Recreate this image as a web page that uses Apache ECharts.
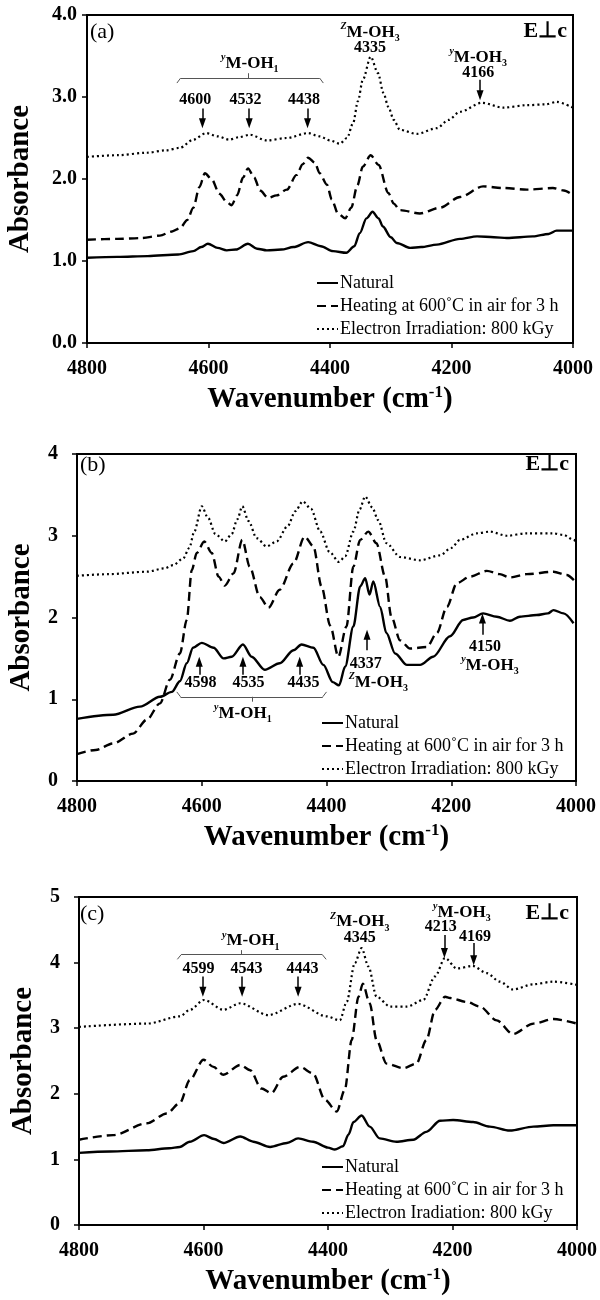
<!DOCTYPE html>
<html>
<head>
<meta charset="utf-8">
<script src="https://cdn.jsdelivr.net/npm/echarts@6/dist/echarts.min.js"></script>
<style>html,body{margin:0;padding:0;background:#fff}#c{width:600px;height:1300px}</style>
</head>
<body>
<div id="c"></div>
<script>
// ---------------- DATA ----------------
// Panel (a)  [wavenumber cm-1, absorbance]
const aNatural = [[4800,1.04],[4750,1.05],[4700,1.06],[4650,1.08],[4625,1.12],[4612,1.17],[4601,1.21],[4585,1.16],[4570,1.13],[4555,1.14],[4535,1.21],[4520,1.15],[4504,1.13],[4480,1.14],[4460,1.17],[4436,1.23],[4415,1.18],[4395,1.12],[4373,1.10],[4360,1.18],[4351,1.34],[4340,1.52],[4330,1.60],[4320,1.52],[4313,1.42],[4300,1.29],[4290,1.22],[4268,1.16],[4250,1.17],[4224,1.20],[4186,1.27],[4158,1.30],[4130,1.29],[4109,1.28],[4066,1.30],[4040,1.33],[4027,1.37],[4000,1.37]];
const aHeating = [[4800,1.26],[4750,1.27],[4710,1.28],[4680,1.31],[4660,1.36],[4647,1.40],[4635,1.50],[4625,1.65],[4615,1.90],[4606,2.07],[4595,2.00],[4582,1.82],[4570,1.72],[4562,1.68],[4553,1.80],[4543,2.02],[4535,2.13],[4525,2.02],[4515,1.86],[4502,1.77],[4488,1.80],[4471,1.87],[4455,2.05],[4445,2.18],[4436,2.26],[4425,2.20],[4417,2.07],[4405,1.93],[4397,1.75],[4387,1.58],[4375,1.52],[4365,1.65],[4355,1.92],[4346,2.15],[4333,2.29],[4320,2.17],[4304,1.83],[4295,1.70],[4285,1.62],[4252,1.58],[4219,1.65],[4186,1.78],[4148,1.91],[4115,1.89],[4076,1.87],[4033,1.89],[4015,1.86],[4000,1.80]];
const aIrradiation = [[4800,2.27],[4750,2.29],[4702,2.32],[4670,2.35],[4647,2.38],[4625,2.48],[4604,2.56],[4585,2.52],[4566,2.48],[4550,2.51],[4532,2.54],[4504,2.47],[4471,2.50],[4436,2.56],[4417,2.52],[4400,2.47],[4384,2.43],[4372,2.50],[4362,2.68],[4354,2.95],[4346,3.21],[4333,3.49],[4321,3.29],[4312,3.05],[4304,2.88],[4295,2.72],[4285,2.60],[4257,2.55],[4224,2.62],[4205,2.72],[4186,2.82],[4150,2.93],[4115,2.87],[4076,2.90],[4045,2.91],[4027,2.94],[4000,2.87]];

// Panel (b)
const bNatural = [[4800,0.76],[4742,0.81],[4699,0.91],[4667,1.03],[4648,1.09],[4635,1.22],[4624,1.44],[4614,1.63],[4600,1.69],[4581,1.63],[4565,1.50],[4552,1.52],[4534,1.67],[4520,1.52],[4499,1.36],[4475,1.44],[4453,1.60],[4440,1.67],[4421,1.63],[4405,1.42],[4390,1.21],[4380,1.17],[4370,1.40],[4357,1.89],[4346,2.38],[4338,2.48],[4331,2.28],[4325,2.44],[4314,2.13],[4304,1.81],[4290,1.56],[4271,1.42],[4250,1.42],[4229,1.52],[4202,1.77],[4181,1.97],[4165,2.00],[4149,2.05],[4127,2.01],[4106,1.96],[4090,2.01],[4063,2.03],[4045,2.05],[4036,2.09],[4020,2.05],[4004,1.93]];
const bHeating = [[4800,0.33],[4770,0.38],[4742,0.46],[4710,0.58],[4688,0.75],[4667,0.95],[4651,1.24],[4635,1.56],[4624,1.97],[4616,2.58],[4608,2.79],[4596,2.93],[4584,2.79],[4573,2.50],[4563,2.39],[4549,2.54],[4535,2.95],[4523,2.62],[4507,2.25],[4493,2.12],[4475,2.34],[4453,2.66],[4435,2.99],[4421,2.87],[4408,2.38],[4394,1.90],[4381,1.52],[4368,1.89],[4357,2.62],[4346,2.95],[4333,3.05],[4320,2.91],[4306,2.50],[4296,2.01],[4282,1.72],[4266,1.62],[4239,1.64],[4223,1.81],[4207,2.13],[4191,2.42],[4170,2.50],[4143,2.57],[4122,2.53],[4106,2.49],[4079,2.53],[4036,2.56],[4015,2.52],[4000,2.43]];
const bIrradiation = [[4800,2.51],[4750,2.53],[4688,2.56],[4660,2.60],[4646,2.64],[4630,2.72],[4620,2.85],[4612,3.05],[4600,3.36],[4590,3.22],[4578,3.02],[4563,2.93],[4552,3.02],[4543,3.20],[4535,3.36],[4525,3.18],[4512,2.97],[4496,2.87],[4480,2.93],[4462,3.12],[4450,3.30],[4438,3.42],[4425,3.33],[4410,3.05],[4395,2.80],[4380,2.68],[4370,2.75],[4357,3.05],[4347,3.32],[4338,3.48],[4327,3.35],[4317,3.19],[4304,2.91],[4282,2.74],[4250,2.70],[4218,2.76],[4200,2.85],[4186,2.95],[4159,3.03],[4138,3.05],[4111,3.00],[4079,3.03],[4037,3.03],[4020,3.01],[4004,2.95],[4000,2.93]];

// Panel (c)
const cNatural = [[4800,1.10],[4750,1.12],[4691,1.14],[4655,1.17],[4638,1.19],[4622,1.27],[4599,1.37],[4583,1.31],[4568,1.25],[4541,1.35],[4520,1.27],[4493,1.19],[4466,1.25],[4448,1.32],[4424,1.27],[4400,1.18],[4389,1.15],[4376,1.20],[4367,1.38],[4359,1.57],[4346,1.67],[4333,1.50],[4317,1.32],[4290,1.27],[4263,1.30],[4242,1.42],[4220,1.59],[4199,1.60],[4167,1.57],[4140,1.50],[4108,1.44],[4070,1.50],[4038,1.52],[4000,1.52]];
const cHeating = [[4800,1.30],[4745,1.37],[4691,1.55],[4659,1.70],[4638,1.86],[4622,2.21],[4600,2.52],[4584,2.41],[4568,2.29],[4541,2.44],[4525,2.36],[4507,2.08],[4491,2.01],[4472,2.26],[4445,2.41],[4424,2.31],[4405,1.91],[4386,1.73],[4373,2.06],[4362,2.82],[4351,3.48],[4344,3.68],[4333,3.38],[4322,2.82],[4306,2.46],[4279,2.39],[4258,2.46],[4242,2.82],[4228,3.28],[4212,3.48],[4204,3.46],[4177,3.40],[4156,3.33],[4129,3.12],[4103,2.91],[4070,3.07],[4038,3.14],[4000,3.07]];
const cIrradiation = [[4800,3.02],[4691,3.07],[4638,3.18],[4622,3.28],[4599,3.43],[4568,3.28],[4541,3.38],[4496,3.20],[4448,3.37],[4402,3.18],[4381,3.12],[4370,3.40],[4357,3.99],[4346,4.22],[4335,3.94],[4322,3.48],[4300,3.33],[4273,3.33],[4247,3.43],[4228,3.79],[4212,4.07],[4193,3.91],[4168,3.95],[4145,3.84],[4124,3.71],[4103,3.59],[4070,3.67],[4038,3.71],[4000,3.66]];

// Names / labels
const seriesNamesAB = ['Natural', 'Heating at 600˚C in air for 3 h', 'Electron Irradiation: 800 kGy'];
const seriesNamesC = ['Natural', 'Heating at 600˚C in air for 3 h', 'Electron Iradiation: 800 kGy'];
const panelLabels = ['(a)', '(b)', '(c)'];
const polarLabel = 'E⊥c';
const yMaxes = [4, 4, 5];
const xRange = [4000, 4800];
const aPeakLabels = ['4600', '4532', '4438', '4335', '4166'];
const bPeakLabels = ['4598', '4535', '4435', '4337', '4150'];
const cPeakLabels = ['4599', '4543', '4443', '4345', '4213', '4169'];

// ---------------- LAYOUT / STYLE ----------------
const SERIF = "'Liberation Serif', 'Times New Roman', serif";
const grids = [
  {left: 87, right: 27, top: 15, height: 328},
  {left: 77, right: 24, top: 454, height: 327},
  {left: 79, right: 23, top: 897, height: 328}
];
const yLabelMargin = [10, 19, 19];
const yNameGap = [52, 41, 41];
const legendPos = [{left: 316, top: 272}, {left: 321, top: 712}, {left: 321, top: 1156}];
const titleTops = [21, 454, 903];
const titleLefts = [90, 80, 80];
const eRights = [33, 31, 31];

const site = (sup, sub) => `{sp|${sup}}{mn|M-OH}{sb|${sub}}`;
// annotations (positions in data coordinates)
const annotations = [
  { texts: [
      {x: 4532, y: 3.41, t: site('y', '1'), site: true},
      {x: 4622, y: 2.96, t: aPeakLabels[0]}, {x: 4539, y: 2.96, t: aPeakLabels[1]}, {x: 4443, y: 2.96, t: aPeakLabels[2]},
      {x: 4334, y: 3.79, t: site('Z', '3'), site: true}, {x: 4334, y: 3.60, t: aPeakLabels[3]},
      {x: 4156, y: 3.48, t: site('y', '3'), site: true}, {x: 4156, y: 3.29, t: aPeakLabels[4]}
    ],
    arrows: [[4610, 2.86, 2.62], [4533, 2.86, 2.62], [4437, 2.86, 2.62], [4153, 3.21, 2.96]],
    bracket: {x1: 4652, x2: 4411, y: 3.23, hook: -0.06, mid: 4535}
  },
  { texts: [
      {x: 4602, y: 1.20, t: bPeakLabels[0]}, {x: 4525, y: 1.20, t: bPeakLabels[1]}, {x: 4437, y: 1.20, t: bPeakLabels[2]},
      {x: 4534, y: 0.83, t: site('y', '1'), site: true},
      {x: 4337, y: 1.43, t: bPeakLabels[3]}, {x: 4317, y: 1.20, t: site('Z', '3'), site: true},
      {x: 4146, y: 1.64, t: bPeakLabels[4]}, {x: 4138, y: 1.41, t: site('y', '3'), site: true}
    ],
    arrows: [[4604, 1.30, 1.52], [4534, 1.30, 1.52], [4443, 1.30, 1.52], [4335, 1.60, 1.85], [4150, 1.79, 2.05]],
    bracket: {x1: 4640, x2: 4400, y: 1.03, hook: 0.06, mid: 4519}
  },
  { texts: [
      {x: 4608, y: 3.91, t: cPeakLabels[0]}, {x: 4531, y: 3.91, t: cPeakLabels[1]}, {x: 4441, y: 3.91, t: cPeakLabels[2]},
      {x: 4524, y: 4.33, t: site('y', '1'), site: true},
      {x: 4349, y: 4.62, t: site('Z', '3'), site: true}, {x: 4349, y: 4.38, t: cPeakLabels[3]},
      {x: 4185, y: 4.76, t: site('y', '3'), site: true}, {x: 4219, y: 4.55, t: cPeakLabels[4]}, {x: 4164, y: 4.39, t: cPeakLabels[5]}
    ],
    arrows: [[4601, 3.79, 3.48], [4538, 3.79, 3.48], [4448, 3.79, 3.48], [4213, 4.42, 4.07], [4166, 4.30, 3.96]],
    bracket: {x1: 4642, x2: 4403, y: 4.12, hook: -0.07, mid: 4540}
  }
];

const richSite = {
  sp: {fontFamily: SERIF, fontSize: 10, fontStyle: 'italic', fontWeight: 'bold', color: '#000', lineHeight: 10, verticalAlign: 'top'},
  mn: {fontFamily: SERIF, fontSize: 17, fontWeight: 'bold', color: '#000', lineHeight: 22},
  sb: {fontFamily: SERIF, fontSize: 10, fontWeight: 'bold', color: '#000', lineHeight: 10, verticalAlign: 'bottom'}
};

function buildMarks(p) {
  const ann = annotations[p];
  const h = grids[p].height;
  const unitPerPx = yMaxes[p] / h;
  const half = 5 * unitPerPx; // half-length of arrow head
  const mp = ann.texts.map(a => ({
    coord: [a.x, a.y],
    value: 0,
    label: a.site ? {formatter: a.t, rich: richSite} :
      {formatter: a.t, fontFamily: SERIF, fontSize: 16, fontWeight: 'bold', color: '#000'}
  }));
  const ml = [];
  ann.arrows.forEach(([x, tail, tip]) => {
    const dir = tip > tail ? 1 : -1;
    ml.push([
      {coord: [x, tail], symbol: 'none', lineStyle: {color: '#000', width: 1.5, type: 'solid'}},
      {coord: [x, tip - dir * half], symbol: 'triangle', symbolSize: [7, 10]}
    ]);
  });
  const b = ann.bracket;
  const seg = (x1, y1, x2, y2) => ml.push([
    {coord: [x1, y1], symbol: 'none', lineStyle: {color: '#555', width: 1, type: 'solid'}},
    {coord: [x2, y2], symbol: 'none'}
  ]);
  seg(b.x1 - 6, b.y, b.x2 + 6, b.y);
  seg(b.x1 - 6, b.y, b.x1, b.y + b.hook);
  seg(b.x2 + 6, b.y, b.x2, b.y + b.hook);
  seg(b.mid, b.y, b.mid, b.y - b.hook);
  return {
    markPoint: {
      symbol: 'circle', symbolSize: 1, itemStyle: {color: 'rgba(0,0,0,0)'},
      label: {show: true, position: 'inside'}, silent: true, animation: false, data: mp
    },
    markLine: {
      symbol: ['none', 'none'], silent: true, animation: false,
      label: {show: false}, emphasis: {disabled: true}, data: ml
    }
  };
}

const panelData = [
  [aNatural, aHeating, aIrradiation],
  [bNatural, bHeating, bIrradiation],
  [cNatural, cHeating, cIrradiation]
];
const lineTypes = ['solid', [9, 5], [2, 3]];
const lineWidths = [2.4, 2.4, 2.2];

const option = {
  animation: false,
  backgroundColor: '#fff',
  grid: grids.map(g => Object.assign({show: true, borderColor: '#000', borderWidth: 2, containLabel: false, outerBoundsMode: 'none'}, g)),
  xAxis: grids.map((g, i) => ({
    gridIndex: i, type: 'value', min: xRange[0], max: xRange[1], interval: 200, inverse: true,
    axisLine: {show: true, onZero: false, lineStyle: {color: '#000', width: 2}},
    axisTick: {show: true, inside: false, length: 5, lineStyle: {color: '#000', width: 1.5}},
    axisLabel: {margin: 16, fontFamily: SERIF, fontSize: 20, fontWeight: 'bold', color: '#000', formatter: v => String(v)},
    splitLine: {show: false},
    name: 'Wavenumber (cm{sup|-1})', nameLocation: 'middle', nameGap: 41, nameMoveOverlap: false,
    nameTextStyle: {fontFamily: SERIF, fontSize: 29, fontWeight: 'bold', color: '#000', lineHeight: 32,
      rich: {sup: {fontFamily: SERIF, fontSize: 17, fontWeight: 'bold', color: '#000', lineHeight: 17, verticalAlign: 'top'}}}
  })),
  yAxis: grids.map((g, i) => ({
    gridIndex: i, type: 'value', min: 0, max: yMaxes[i], interval: 1,
    axisLine: {show: true, onZero: false, lineStyle: {color: '#000', width: 2}},
    axisTick: {show: true, inside: false, length: 5, lineStyle: {color: '#000', width: 1.5}},
    axisLabel: {margin: yLabelMargin[i], fontFamily: SERIF, fontSize: 20, fontWeight: 'bold', color: '#000',
      formatter: i === 0 ? (v => v.toFixed(1)) : (v => String(v))},
    splitLine: {show: false},
    name: 'Absorbance', nameLocation: 'middle', nameGap: yNameGap[i], nameRotate: 90, nameMoveOverlap: false,
    nameTextStyle: {fontFamily: SERIF, fontSize: 29, fontWeight: 'bold', color: '#000'}
  })),
  title: [].concat(
    panelLabels.map((t, i) => ({text: t, left: titleLefts[i], top: titleTops[i], padding: 0,
      textStyle: {fontFamily: SERIF, fontSize: 22, fontWeight: 'normal', color: '#000'}})),
    panelLabels.map((t, i) => ({text: polarLabel, right: eRights[i], top: titleTops[i] - 1, padding: 0,
      textStyle: {fontFamily: SERIF, fontSize: 22, fontWeight: 'bold', color: '#000'}}))
  ),
  legend: legendPos.map((pos, i) => ({
    orient: 'vertical', left: pos.left, top: pos.top, padding: 0, itemGap: 1,
    itemWidth: 21, itemHeight: 10, selectedMode: false,
    itemStyle: {opacity: 0},
    lineStyle: {color: '#000', opacity: 1},
    data: i === 2 ? seriesNamesC : seriesNamesAB,
    textStyle: {fontFamily: SERIF, fontSize: 18, color: '#000', lineHeight: 22, padding: [0, 0, 0, -3]}
  })),
  series: []
};

panelData.forEach((arr, p) => {
  const names = p === 2 ? seriesNamesC : seriesNamesAB;
  arr.forEach((data, k) => {
    const s = {
      type: 'line', name: names[k], xAxisIndex: p, yAxisIndex: p, data: data,
      showSymbol: false, symbol: 'none', smooth: 0.3, smoothMonotone: 'x', z: 3,
      lineStyle: {color: '#000', width: lineWidths[k], type: lineTypes[k]},
      itemStyle: {color: '#000'},
      emphasis: {disabled: true}
    };
    if (k === 0) Object.assign(s, buildMarks(p));
    option.series.push(s);
  });
});

const chart = echarts.init(document.getElementById('c'), null, {renderer: 'canvas', width: 600, height: 1300});
chart.setOption(option);
</script>
</body>
</html>
